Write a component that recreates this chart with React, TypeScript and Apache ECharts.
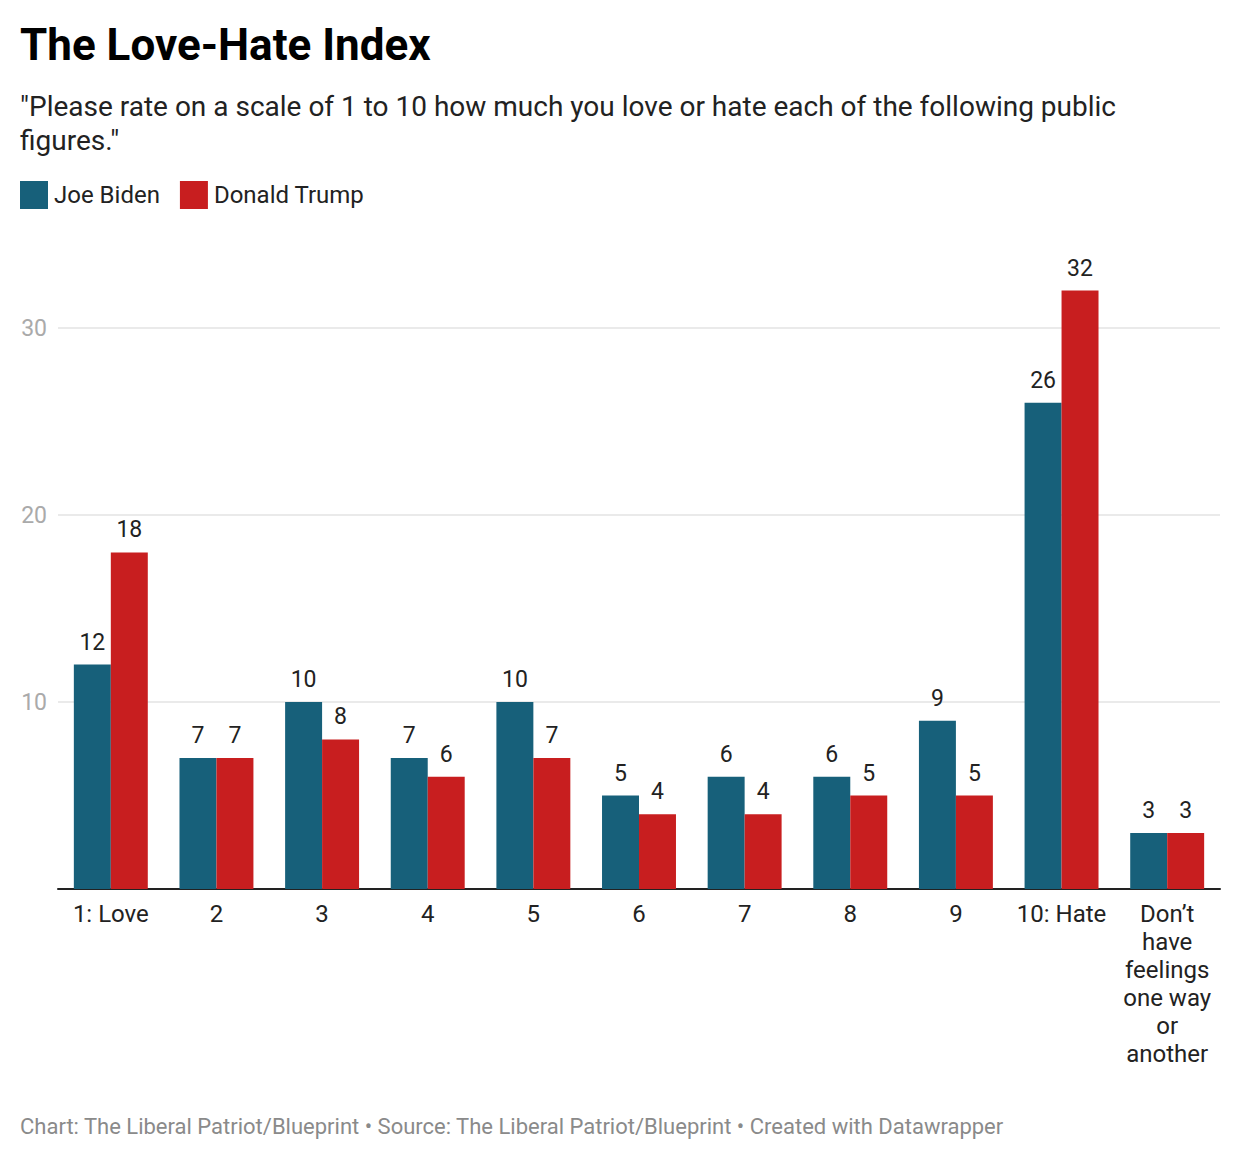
import React, { useEffect, useRef } from "react";
import * as echarts from "echarts";

const categories = ["1: Love", "2", "3", "4", "5", "6", "7", "8", "9", "10: Hate", "Don’t\nhave\nfeelings\none way\nor\nanother"];
const biden = [12, 7, 10, 7, 10, 5, 6, 6, 9, 26, 3];
const trump = [18, 7, 8, 6, 7, 4, 4, 5, 5, 32, 3];
const seriesNames = ["Joe Biden", "Donald Trump"];
const titleText = "The Love-Hate Index";
const subtitleText = "\"Please rate on a scale of 1 to 10 how much you love or hate each of the following public\nfigures.\"";
const footerText = "Chart: The Liberal Patriot/Blueprint • Source: The Liberal Patriot/Blueprint • Created with Datawrapper";

const FONT = "Roboto, 'Noto Sans', sans-serif";

export default function App() {
  const ref = useRef<HTMLDivElement>(null);
  useEffect(() => {
    if (!ref.current) return;
    const chart = echarts.init(ref.current, undefined, { renderer: "svg" });
    const labelStyle = {
      show: true,
      position: "top",
      distance: 11,
      color: "#222",
      fontSize: 23,
      fontFamily: FONT,
    };
    chart.setOption({
      animation: false,
      backgroundColor: "#fff",
      textStyle: { fontFamily: FONT },
      title: [
        {
          text: titleText,
          left: 20,
          top: 21,
          padding: 0,
          textStyle: { fontSize: 44, fontWeight: "bold", color: "#000", lineHeight: 48, fontFamily: FONT },
        },
        {
          text: subtitleText,
          left: 20,
          top: 89,
          padding: 0,
          textStyle: { fontSize: 28, fontWeight: "normal", color: "#222", lineHeight: 34, fontFamily: FONT },
        },
        {
          text: footerText,
          left: 20,
          top: 1114,
          padding: 0,
          textStyle: { fontSize: 22, fontWeight: "normal", color: "#8a8a8a", lineHeight: 24, fontFamily: FONT },
        },
      ],
      legend: {
        left: 20,
        top: 181,
        padding: 0,
        itemWidth: 28,
        itemHeight: 28,
        itemGap: 20,
        icon: "rect",
        data: seriesNames,
        textStyle: { fontSize: 24, color: "#222", fontFamily: FONT, padding: [0, 0, 0, 1] },
      },
      grid: { left: 58, right: 20, top: 889 - 32 * 18.7, bottom: 1162 - 889 },
      xAxis: {
        type: "category",
        data: categories,
        axisLine: { show: true, lineStyle: { color: "#222", width: 2 } },
        axisTick: { show: false },
        axisLabel: {
          interval: 0,
          color: "#222",
          fontSize: 24,
          lineHeight: 28,
          margin: 11,
          fontFamily: FONT,
          align: "center",
        },
      },
      yAxis: {
        type: "value",
        min: 0,
        max: 32,
        interval: 10,
        axisLine: { show: false },
        axisTick: { show: false },
        axisLabel: {
          color: "#aaa",
          fontSize: 23,
          margin: 11,
          showMaxLabel: false,
          showMinLabel: false,
          fontFamily: FONT,
        },
        splitLine: { show: true, showMaxLine: false, showMinLine: false, lineStyle: { color: "#e3e3e3", width: 1.5 } },
      },
      series: [
        {
          name: seriesNames[0],
          type: "bar",
          data: biden,
          barGap: "0%",
          barCategoryGap: "30%",
          itemStyle: { color: "#17607a" },
          label: labelStyle,
        },
        {
          name: seriesNames[1],
          type: "bar",
          data: trump,
          barGap: "0%",
          barCategoryGap: "30%",
          itemStyle: { color: "#c81e1f" },
          label: labelStyle,
        },
      ],
    });
    return () => chart.dispose();
  }, []);
  return (
    <div
      ref={ref}
      style={{ position: "absolute", left: 0, top: 0, width: 1240, height: 1162, background: "#fff" }}
    />
  );
}
